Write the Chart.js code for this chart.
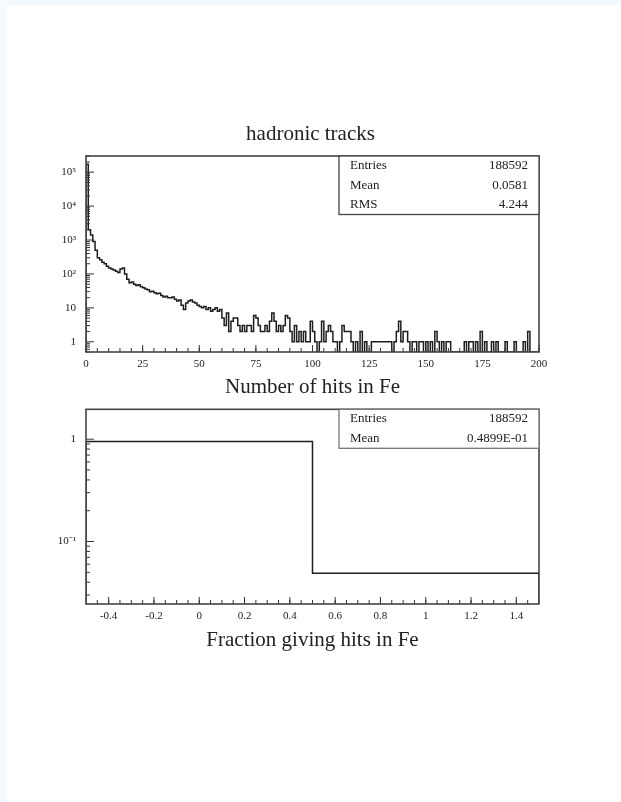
<!DOCTYPE html>
<html lang="en">
<head>
<meta charset="UTF-8">
<title>hadronic tracks</title>
<script src="https://cdn.jsdelivr.net/npm/chart.js"></script>
<style>
  html, body { margin: 0; padding: 0; background: #f4f9fd; overflow: hidden; }
  .sheet { position: absolute; left: 7px; top: 5px; width: 614px; height: 797px; background: #fff; }
  canvas { position: absolute; left: 0; filter: blur(0.55px); }
  #hitsChart { top: 0; }
  #fracChart { top: 400px; }
</style>
</head>
<body>
<div class="sheet"></div>
<canvas id="hitsChart" width="621" height="400"></canvas>
<canvas id="fracChart" width="621" height="260"></canvas>
<script>
// --- upper histogram: number of hits in Fe, 200 bins of width 1 from 0 to 200
const hitCounts = [
  170000, 2000, 1400, 900, 500, 300, 260, 220, 200, 170,
  150, 140, 130, 120, 110, 140, 150, 100, 70, 55,
  58, 50, 46, 48, 42, 39, 36, 34, 30, 31,
  28, 26, 27, 23, 21, 22, 20, 20, 21, 18,
  16, 17, 12, 9, 14, 16, 17, 15, 14, 12,
  11, 10, 11, 9, 10, 8, 9, 10, 8, 9,
  5, 3, 7, 2, 4, 5, 5, 3, 2, 3,
  2, 3, 3, 2, 6, 5, 3, 2, 2, 3,
  2, 4, 7, 4, 2, 3, 2, 3, 6, 5,
  2, 1, 3, 1, 2, 1, 2, 1, 1, 4,
  2, 1, 0, 1, 4, 1, 2, 3, 2, 1,
  1, 0, 1, 3, 2, 2, 2, 1, 0, 1,
  0, 2, 0, 1, 0, 0, 1, 1, 1, 1,
  1, 1, 1, 1, 1, 0, 1, 2, 4, 1,
  2, 2, 1, 0, 1, 1, 0, 1, 1, 0,
  1, 0, 1, 0, 2, 1, 0, 1, 0, 1,
  1, 0, 0, 0, 0, 0, 0, 1, 0, 1,
  1, 0, 1, 0, 2, 0, 1, 0, 0, 1,
  0, 1, 0, 0, 0, 1, 0, 0, 0, 1,
  0, 0, 0, 1, 0, 2, 0, 0, 0, 0
];
const hitBinWidth = 1;
const hitXRange = [0, 200];
const hitYRange = [0.5, 3e5];
const hitXTicks = [0, 25, 50, 75, 100, 125, 150, 175, 200];
const hitYTicks = [1, 10, 100, 1000, 10000, 100000];
const hitStatNames = ['Entries', 'Mean', 'RMS'];
const hitStatValues = ['188592', '0.0581', '4.244'];

// --- lower histogram: fraction giving hits in Fe, 2 bins
const fracEdges = [-0.5, 0.5, 1.5];
const fracValues = [0.951, 0.049];
const fracYRange = [0.0245, 1.96];
const fracXTicks = [-0.4, -0.2, 0, 0.2, 0.4, 0.6, 0.8, 1, 1.2, 1.4];
const fracYTicks = [0.1, 1];
const fracStatNames = ['Entries', 'Mean'];
const fracStatValues = ['188592', '0.4899E-01'];

const INK = '#222';
const SERIF = '"Liberation Serif", "Times New Roman", serif';
const SUP = { '-': '\u207B', '0': '\u2070', '1': '\u00B9', '2': '\u00B2', '3': '\u00B3',
  '4': '\u2074', '5': '\u2075', '6': '\u2076', '7': '\u2077', '8': '\u2078', '9': '\u2079' };

function logLabel(v) {
  const e = Math.round(Math.log10(v));
  if (e === 0) return '1';
  if (e === 1) return '10';
  return '10' + String(e).split('').map(c => SUP[c]).join('');
}

// k * 10^d minor ticks of a log axis
function logMinors(lo, hi) {
  const out = [];
  for (let d = Math.floor(Math.log10(lo)); d <= Math.ceil(Math.log10(hi)); d++) {
    for (let k = 2; k <= 9; k++) {
      const v = k * Math.pow(10, d);
      if (v >= lo && v <= hi) out.push(v);
    }
  }
  return out;
}

function stepMinors(lo, hi, step) {
  const out = [];
  for (let v = lo; v <= hi + 1e-9; v += step) out.push(v);
  return out;
}

// outline of a histogram, empty bins sit on the axis floor
function histPoints(edges, values, floor) {
  const pts = [{ x: edges[0], y: floor }];
  values.forEach((v, i) => pts.push({ x: edges[i], y: v > 0 ? v : floor }));
  const last = values[values.length - 1];
  pts.push({ x: edges[edges.length - 1], y: last > 0 ? last : floor });
  pts.push({ x: edges[edges.length - 1], y: floor });
  return pts;
}

// frame, inward ticks and stats box in the PAW style
const pawFrame = {
  id: 'pawFrame',
  afterDatasetsDraw(chart, args, opts) {
    const { ctx, chartArea: a, scales: { x, y } } = chart;
    ctx.save();
    ctx.strokeStyle = '#333';
    ctx.lineWidth = 1;
    ctx.beginPath();
    opts.xMinor.forEach(v => { const p = x.getPixelForValue(v); ctx.moveTo(p, a.bottom); ctx.lineTo(p, a.bottom - 4); });
    opts.xMajor.forEach(v => { const p = x.getPixelForValue(v); ctx.moveTo(p, a.bottom); ctx.lineTo(p, a.bottom - 7); });
    opts.yMinor.forEach(v => { const p = y.getPixelForValue(v); ctx.moveTo(a.left, p); ctx.lineTo(a.left + 4, p); });
    opts.yMajor.forEach(v => { const p = y.getPixelForValue(v); ctx.moveTo(a.left, p); ctx.lineTo(a.left + 8, p); });
    ctx.stroke();

    ctx.lineWidth = 1.6;
    ctx.strokeStyle = '#444';
    ctx.strokeRect(a.left, a.top, a.right - a.left, a.bottom - a.top);

    const rowH = 19.5, boxW = 200;
    const bx = a.right - boxW, by = a.top, bh = rowH * opts.statNames.length;
    ctx.fillStyle = '#fff';
    ctx.fillRect(bx, by, boxW, bh);
    ctx.lineWidth = 1.3;
    ctx.strokeStyle = opts.boxColor;
    ctx.strokeRect(bx, by, boxW, bh);
    ctx.fillStyle = INK;
    ctx.font = '13px ' + SERIF;
    ctx.textBaseline = 'middle';
    opts.statNames.forEach((n, i) => {
      const ty = by + rowH * (i + 0.5);
      ctx.textAlign = 'left';
      ctx.fillText(n, bx + 11, ty);
      ctx.textAlign = 'right';
      ctx.fillText(opts.statValues[i], a.right - 11, ty);
    });
    ctx.restore();
  }
};

function makeChart(id, cfg) {
  return new Chart(document.getElementById(id), {
    type: 'line',
    data: {
      datasets: [{
        data: cfg.points,
        stepped: true,
        borderColor: '#1e1e1e',
        borderWidth: 1.5,
        pointRadius: 0,
        fill: false
      }]
    },
    options: {
      responsive: false,
      animation: false,
      layout: { padding: { left: 0, right: 0, top: cfg.padTop, bottom: 0 } },
      plugins: {
        legend: { display: false },
        tooltip: { enabled: false },
        title: cfg.title ? {
          display: true,
          text: cfg.title,
          color: INK,
          font: { family: SERIF, size: 21, weight: 'normal', lineHeight: 1.2 },
          padding: { top: 121.4, bottom: 9.4 }
        } : { display: false },
        pawFrame: {
          xMajor: cfg.xTicks, xMinor: cfg.xMinor,
          yMajor: cfg.yTicks, yMinor: cfg.yMinor,
          statNames: cfg.statNames, statValues: cfg.statValues,
          boxColor: cfg.boxColor
        }
      },
      scales: {
        x: {
          type: 'linear',
          min: cfg.xRange[0],
          max: cfg.xRange[1],
          grid: { display: false, drawTicks: false },
          border: { display: false },
          afterBuildTicks: s => { s.ticks = cfg.xTicks.map(v => ({ value: v })); },
          afterFit: s => { s.height = cfg.xAxisHeight; },
          ticks: {
            color: INK, font: { family: SERIF, size: 11 }, padding: 6,
            maxRotation: 0, autoSkip: false,
            callback: v => String(Math.round(v * 10) / 10)
          },
          title: {
            display: true, text: cfg.xTitle, color: INK,
            font: { family: SERIF, size: 21, lineHeight: 1.2 },
            padding: { top: 0, bottom: cfg.xTitlePad }
          }
        },
        y: {
          type: 'logarithmic',
          min: cfg.yRange[0],
          max: cfg.yRange[1],
          // tick marks themselves are drawn inside the frame by pawFrame,
          // the tick length here only keeps the labels clear of the axis
          grid: { display: false, drawTicks: true, tickLength: 8 },
          border: { display: false },
          afterBuildTicks: s => { s.ticks = cfg.yTicks.map(v => ({ value: v })); },
          afterFit: s => { s.width = 86; },
          ticks: {
            color: INK, font: { family: SERIF, size: 11 }, padding: 2,
            autoSkip: false,
            callback: v => logLabel(v)
          }
        },
        // empty right margin so the title centres on the page
        yRight: {
          type: 'linear',
          position: 'right',
          grid: { display: false, drawTicks: false },
          border: { display: false },
          ticks: { display: false },
          afterFit: s => { s.width = 82; }
        }
      }
    },
    plugins: [pawFrame]
  });
}

const hitEdges = hitCounts.map((_, i) => hitXRange[0] + i * hitBinWidth).concat([hitXRange[1]]);

makeChart('hitsChart', {
  points: histPoints(hitEdges, hitCounts, hitYRange[0]),
  title: 'hadronic tracks',
  padTop: 0,
  xRange: hitXRange, yRange: hitYRange,
  xTicks: hitXTicks, xMinor: stepMinors(0, 200, 5),
  yTicks: hitYTicks, yMinor: logMinors(hitYRange[0], hitYRange[1]),
  xTitle: 'Number of hits in Fe', xAxisHeight: 48, xTitlePad: 0,
  statNames: hitStatNames, statValues: hitStatValues, boxColor: '#444'
});

makeChart('fracChart', {
  points: histPoints(fracEdges, fracValues, fracYRange[0]),
  title: null,
  padTop: 9.3,
  xRange: [fracEdges[0], fracEdges[fracEdges.length - 1]], yRange: fracYRange,
  xTicks: fracXTicks, xMinor: stepMinors(-0.45, 1.45, 0.05),
  yTicks: fracYTicks, yMinor: logMinors(fracYRange[0], fracYRange[1]),
  xTitle: 'Fraction giving hits in Fe', xAxisHeight: 56, xTitlePad: 7.4,
  statNames: fracStatNames, statValues: fracStatValues, boxColor: '#777'
});
</script>
</body>
</html>
